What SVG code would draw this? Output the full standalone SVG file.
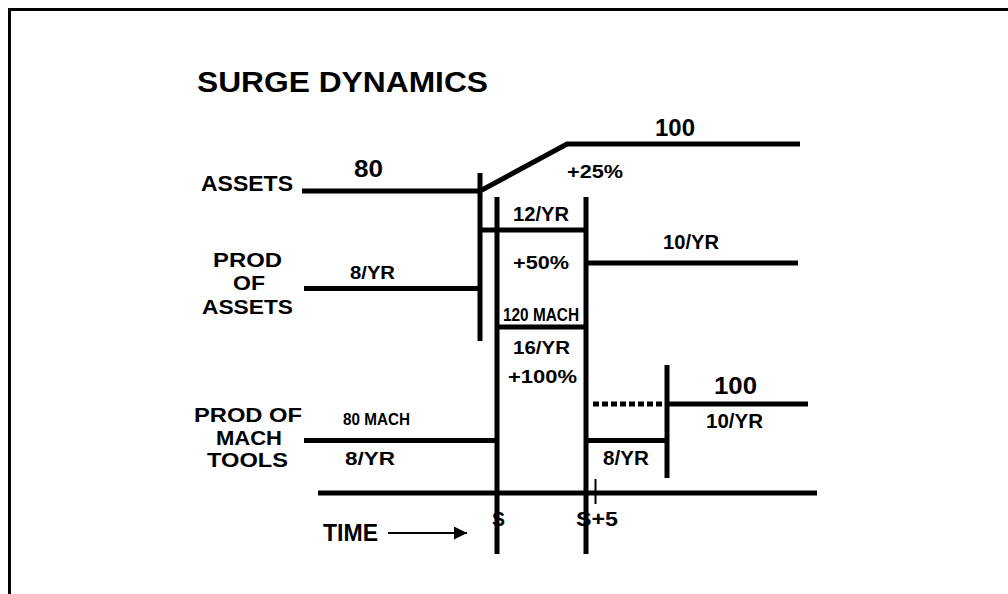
<svg xmlns="http://www.w3.org/2000/svg" width="1008" height="594" viewBox="0 0 1008 594">
<style>
text{font-family:"Liberation Sans",Arial,sans-serif;font-weight:bold;fill:#000}
.ln{stroke:#000;stroke-width:5;fill:none}
.thin{stroke:#000;stroke-width:2;fill:none}
</style>
<defs>
<marker id="arr" viewBox="0 0 13 13" refX="13" refY="6.5" markerWidth="13" markerHeight="13" markerUnits="userSpaceOnUse" orient="auto">
<path d="M0,0 L13,6.5 L0,13 Z" fill="#000"/>
</marker>
</defs>
<rect width="1008" height="594" fill="#fff"/>
<path d="M9.5,594 V9.5 H1008" stroke="#000" stroke-width="3" fill="none"/>
<g id="title"><text x="197" y="92" font-size="29" textLength="291" lengthAdjust="spacingAndGlyphs">SURGE DYNAMICS</text></g>
<g id="labels">
<text x="201" y="191" font-size="22" textLength="92" lengthAdjust="spacingAndGlyphs">ASSETS</text>
<text x="213" y="267" font-size="21" textLength="69" lengthAdjust="spacingAndGlyphs">PROD</text>
<text x="233" y="290" font-size="21" textLength="32" lengthAdjust="spacingAndGlyphs">OF</text>
<text x="202" y="314" font-size="21" textLength="91" lengthAdjust="spacingAndGlyphs">ASSETS</text>
<text x="194" y="422" font-size="21" textLength="108" lengthAdjust="spacingAndGlyphs">PROD OF</text>
<text x="216" y="445" font-size="21" textLength="66" lengthAdjust="spacingAndGlyphs">MACH</text>
<text x="207" y="467" font-size="21" textLength="81" lengthAdjust="spacingAndGlyphs">TOOLS</text>
<text x="323" y="541" font-size="23" textLength="55" lengthAdjust="spacingAndGlyphs">TIME</text>
<text x="492" y="526" font-size="21" textLength="13" lengthAdjust="spacingAndGlyphs">S</text>
<text x="576" y="526" font-size="21" textLength="42" lengthAdjust="spacingAndGlyphs">S+5</text>
</g>
<g id="values">
<text x="354" y="177" font-size="24" textLength="29" lengthAdjust="spacingAndGlyphs">80</text>
<text x="655" y="136" font-size="23" textLength="40" lengthAdjust="spacingAndGlyphs">100</text>
<text x="567" y="178" font-size="18" textLength="56" lengthAdjust="spacingAndGlyphs">+25%</text>
<text x="350" y="279" font-size="19" textLength="45" lengthAdjust="spacingAndGlyphs">8/YR</text>
<text x="513" y="221" font-size="20" textLength="56" lengthAdjust="spacingAndGlyphs">12/YR</text>
<text x="513" y="269" font-size="19" textLength="56" lengthAdjust="spacingAndGlyphs">+50%</text>
<text x="503" y="321" font-size="18" textLength="76" lengthAdjust="spacingAndGlyphs">120 MACH</text>
<text x="663" y="249" font-size="20" textLength="56" lengthAdjust="spacingAndGlyphs">10/YR</text>
<text x="513" y="354" font-size="19" textLength="57" lengthAdjust="spacingAndGlyphs">16/YR</text>
<text x="508" y="383" font-size="19" textLength="69" lengthAdjust="spacingAndGlyphs">+100%</text>
<text x="714" y="394" font-size="24" textLength="43" lengthAdjust="spacingAndGlyphs">100</text>
<text x="706" y="428" font-size="20" textLength="57" lengthAdjust="spacingAndGlyphs">10/YR</text>
<text x="343" y="425" font-size="17" textLength="67" lengthAdjust="spacingAndGlyphs">80 MACH</text>
<text x="345" y="465" font-size="19" textLength="50" lengthAdjust="spacingAndGlyphs">8/YR</text>
<text x="603" y="465" font-size="20" textLength="46" lengthAdjust="spacingAndGlyphs">8/YR</text>
</g>
<g id="connectors">
<path class="ln" d="M302,191 H480 L567,144 H800"/>
<path class="ln" d="M480,173 V341"/>
<path class="ln" d="M497,197 V554"/>
<path class="ln" d="M586,197 V554"/>
<path class="ln" d="M480,230 H586"/>
<path class="ln" d="M304,288.5 H480"/>
<path class="ln" d="M497,327 H586"/>
<path class="ln" d="M586,263 H798"/>
<path class="ln" d="M304,440.5 H497"/>
<path class="ln" d="M586,440.5 H667"/>
<path class="ln" d="M667,365 V478"/>
<path class="ln" d="M667,404 H808"/>
<path class="ln" d="M593,404 H664" stroke-dasharray="6 3"/>
<path class="ln" d="M318,493 H817"/>
<path class="thin" d="M595.5,479 V504"/>
<path class="thin" d="M388,533 H467" marker-end="url(#arr)"/>
</g>
</svg>
